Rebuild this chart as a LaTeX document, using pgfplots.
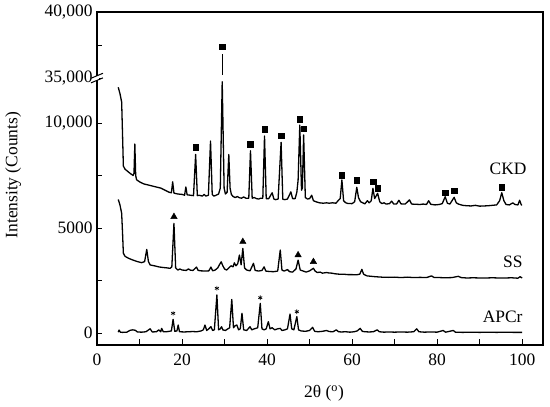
\documentclass[border=0pt]{standalone}
\usepackage{fontspec}
\setmainfont{Liberation Serif}
\usepackage{pgfplots}
\usepackage{pgfplotstable}
\pgfplotsset{compat=1.18}
% y values are in display units: counts below the break (12140 = 35,000),
% above it 1 display unit = 21/13 counts.
\pgfplotstableread{
x y
5.0 11700
5.4 11400
5.8 11000
6.0 9500
6.2 7950
6.6 7800
7.2 7700
7.8 7600
8.5 7500
8.7 7600
8.9 9000
9.1 7500
9.3 7300
10 7200
11 7100
12 7050
13 7000
14 6950
15 6900
16 6800
17 6700
17.5 6680
17.8 7200
18.1 6660
19 6620
20 6600
20.6 6560
20.9 6950
21.2 6580
22 6560
22.7 6540
23.2 8500
23.6 6540
24 6560
24.8 6520
25.2 6600
25.6 6520
26.2 6560
26.7 9140
27.1 6600
27.5 6520
28 6560
28.6 6620
29.0 6900
29.45 11967
29.9 6900
30.2 6620
30.6 6700
31.0 8500
31.3 6900
31.6 6600
32 6500
32.5 6450
33 6500
33.5 6440
34 6420
34.5 6480
35 6420
35.7 6420
36.1 8680
36.5 6420
37 6450
37.5 6400
38 6380
38.5 6420
39.0 6420
39.4 9380
39.8 6400
40.4 6400
41.2 6680
41.6 6380
42 6350
42.6 6380
43.3 9080
43.7 6370
44.2 6350
44.8 6380
45.6 6720
46 6400
46.6 6400
47.0 6700
47.3 7280
47.7 9900
48.1 6800
48.3 6900
48.6 9430
49.0 6450
49.5 6380
50.0 6400
50.5 6560
50.9 6300
51.5 6250
52.3 6200
53.2 6180
54 6200
54.6 6180
55.4 6200
56.2 6180
56.7 6300
57.2 6400
57.6 7290
58 6300
58.5 6200
59 6170
60 6160
60.6 6250
61.1 6940
61.5 6450
62 6250
62.5 6200
63 6150
63.6 6300
64 6200
64.5 6300
64.9 6890
65.3 6400
66.0 6650
66.5 6250
67 6160
67.5 6200
68 6140
68.8 6160
69.3 6280
69.8 6140
70.5 6150
71.0 6320
71.5 6150
72.5 6140
73.5 6340
74 6140
75 6130
76 6120
76.7 6140
77.5 6120
78 6300
78.5 6130
79.5 6100
80.5 6120
81.2 6160
81.9 6490
82.4 6180
83 6140
84.0 6460
84.5 6200
85 6140
86 6080
87 6060
88 6050
89 6080
90 6040
91 6050
92 6060
93 6080
94 6100
94.7 6300
95.2 6680
95.7 6300
96.2 6120
97 6100
97.8 6200
98.3 6120
99.0 6100
99.4 6320
99.8 6100
100 6100
}\ckd
\pgfplotstableread{
x y
5.0 6360
5.4 6100
5.8 5700
6.0 4800
6.2 3800
6.6 3650
7.5 3550
8.5 3470
9.5 3400
10.5 3350
11.2 3400
11.7 3980
12.1 3400
12.5 3240
13.5 3200
14.5 3150
15.5 3120
16.5 3100
17.2 3080
17.6 3150
18.1 5220
18.5 3100
19 3000
19.5 3050
20 3000
21 2980
21.5 3050
22 2990
22.6 2980
23.4 3140
23.8 2980
24.5 2960
25.5 2950
26.3 2960
26.8 3140
27.2 2960
27.8 3000
28.4 3100
28.8 3250
29.2 3390
29.6 3200
30 3050
30.5 3000
31 3100
31.5 3200
32.0 3150
32.3 3340
32.7 3200
33.1 3300
33.5 3710
33.9 3250
34.3 4030
34.7 3100
35.2 3000
36 2960
36.8 3320
37.2 2980
38 2950
38.8 2980
39.3 3150
39.7 2950
40.5 2930
41.5 2920
42.5 2950
43.1 3950
43.5 3000
44 2950
44.8 3020
45.3 2920
46 2900
46.8 3050
47.3 3470
47.8 3000
48.5 2950
49.2 2900
50.0 2960
50.9 3080
51.3 2950
51.8 2880
52.5 2900
53 2850
54 2880
54.5 2860
55.2 2850
56 2820
57 2800
58 2800
59 2780
60 2780
61 2770
61.8 2800
62.3 3030
62.7 2800
63.5 2720
64.5 2700
65.5 2680
67 2660
68.5 2650
70 2660
71.5 2640
73 2660
74.5 2640
76 2650
77.5 2640
78.7 2720
79.3 2640
80.5 2640
82 2630
83.5 2640
85 2700
85.6 2640
87 2620
88.5 2630
90 2620
91.5 2620
93 2630
94.5 2620
96 2620
97.5 2630
99 2610
99.5 2680
100 2620
}\ss
\pgfplotstableread{
x y
5.0 40
5.2 140
5.5 40
6 30
7 40
7.8 130
8.4 150
9.0 130
9.5 50
10.5 40
11.5 60
12.5 200
13 50
14 60
14.5 150
15 60
15.2 220
15.6 60
16.3 60
17.0 80
17.5 100
17.9 650
18.3 80
18.8 100
19.1 380
19.4 60
20.5 50
21.5 60
22.5 70
23.5 60
24.5 100
25.0 150
25.4 380
25.8 120
26.3 200
26.8 300
27.2 120
27.6 150
28.2 1810
28.6 150
29.0 200
29.3 300
29.6 150
30.2 120
30.8 200
31.2 250
31.7 1600
32.1 250
32.5 350
32.9 380
33.3 150
33.7 200
34.1 940
34.5 150
35.2 120
36.0 300
36.4 150
37.0 200
37.8 250
38.4 1410
38.8 200
39.3 150
39.8 200
40.3 540
40.7 200
41.2 250
41.8 150
42.5 200
43.1 220
43.5 120
44.2 150
44.8 200
45.4 900
45.8 200
46.3 150
47.0 780
47.4 150
48 100
49 80
50 120
50.7 270
51.2 80
52 60
53 80
54 120
54.6 70
55.5 60
56.3 150
56.8 60
57.5 50
58.5 60
59.5 40
60.5 60
61.2 100
61.9 220
62.4 80
63.0 60
64 50
65.0 60
65.9 150
66.4 60
67.5 40
68.5 50
70 40
71.5 50
73 40
74.5 60
75.2 200
75.7 60
77 40
78.5 50
80 40
81.4 120
82 40
83.8 120
84.3 40
86 30
88 40
90 30
92 40
94 30
96 40
98 30
100 30
}\apcr
\begin{document}
\begin{tikzpicture}[font=\fontsize{17.5}{20}\selectfont]
\useasboundingbox (-97bp,-62bp) rectangle (453bp,345bp);
\begin{axis}[
  at={(0,0)}, anchor=south west,
  width=446bp, height=333bp, scale only axis,
  xmin=0, xmax=104.9, ymin=-571, ymax=15286,
  scaled y ticks=false, scaled x ticks=false,
  axis line style={line width=1.1bp},
  tick pos=left, tick align=inside,
  major tick length=5.5bp,
  tick style={line width=1bp, black},
  xtick={0,10,...,100},
  xticklabels={0,,20,,40,,60,,80,,100},
  ytick={0,2500,5000,7500,10000,12140,13700,15260},
  yticklabels={0,,5000,,{10,000},{35,000},,{40,000}},
  tick label style={font=\fontsize{17.5}{20}\selectfont},
  xticklabel style={yshift=-5bp},
  yticklabel style={xshift=-1bp},
  xlabel={2θ (\textsuperscript{o})},
  ylabel={Intensity (Counts)},
  xlabel style={at={(axis description cs:0.509,-0.146)}, anchor=center},
  ylabel style={at={(axis description cs:-0.188,0.51)}, anchor=center},
  clip=false,
]
\addplot[black, line width=1.3bp, line join=round] table {\ckd};
\addplot[black, line width=1.3bp, line join=round] table {\ss};
\addplot[black, line width=1.3bp, line join=round] table {\apcr};
\addplot[black, line width=0.9bp] coordinates {(29.45,12290) (29.45,13286)};
% phase markers
\addplot[only marks, mark=square*, mark size=2.8bp, black] coordinates {
(23.2,8843) (29.45,13634) (36.1,9000) (39.4,9714) (43.3,9395) (47.7,10176)
(48.6,9729) (57.6,7524) (61.1,7286) (64.9,7205) (66.0,6890) (81.9,6681)
(84.0,6776) (95.2,6938)};
\addplot[only marks, mark=triangle*, mark size=3.7bp, black] coordinates {
(18.1,5538) (34.3,4348) (47.3,3714) (50.9,3395)};
\addplot[only marks, mark=asterisk, mark size=2.3bp, black, mark options={line width=0.7bp}] coordinates {
(17.9,938) (28.2,2129) (38.4,1681) (47.0,1014)};
% sample names
\node at (axis cs:96.7,7833) {CKD};
\node at (axis cs:97.8,3405) {SS};
\node at (axis cs:95.4,760) {APCr};
% axis break
\fill[white] ([xshift=-2bp]axis cs:0,12030) rectangle ([xshift=2bp]axis cs:0,12250);
\draw[line width=1bp] ([xshift=-6bp,yshift=-2.5bp]axis cs:0,12030) -- ([xshift=6bp,yshift=2.5bp]axis cs:0,12030);
\draw[line width=1bp] ([xshift=-6bp,yshift=-2.5bp]axis cs:0,12250) -- ([xshift=6bp,yshift=2.5bp]axis cs:0,12250);
\end{axis}
\end{tikzpicture}
\end{document}
